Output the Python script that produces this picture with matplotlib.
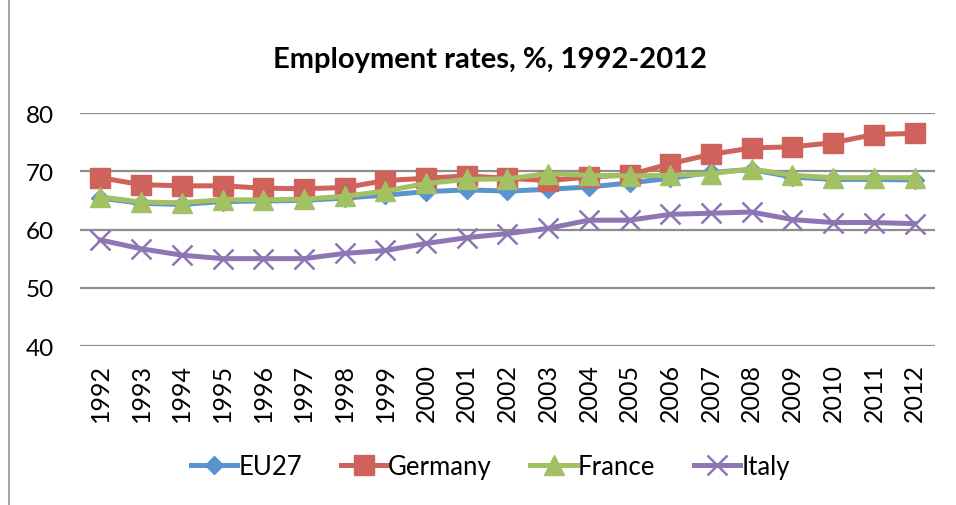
import numpy as np
import matplotlib
matplotlib.use("Agg")
import matplotlib.pyplot as plt
from matplotlib.lines import Line2D

plt.rcParams['font.family'] = ['Lato', 'DejaVu Sans']

years = [str(y) for y in range(1992, 2013)]
eu27 = [65.4, 64.5, 64.3, 64.8, 64.9, 65.0, 65.4, 65.9, 66.5, 66.8, 66.6,
        66.9, 67.3, 68.0, 68.8, 69.8, 70.3, 69.0, 68.6, 68.6, 68.5]
germany = [68.9, 67.7, 67.5, 67.5, 67.1, 67.0, 67.2, 68.4, 68.8, 69.2, 68.8,
           68.4, 69.0, 69.4, 71.3, 72.9, 74.0, 74.2, 74.9, 76.3, 76.5]
france = [65.6, 64.7, 64.6, 65.1, 65.1, 65.2, 65.7, 66.6, 67.9, 68.6, 68.7,
          69.6, 69.3, 69.2, 69.3, 69.6, 70.4, 69.3, 68.9, 68.9, 68.9]
italy = [58.2, 56.7, 55.6, 55.0, 55.0, 55.0, 55.9, 56.4, 57.6, 58.6, 59.3,
         60.2, 61.6, 61.6, 62.6, 62.8, 63.0, 61.7, 61.2, 61.2, 61.0]

names = ['EU27', 'Germany', 'France', 'Italy']
colors = ['#5A94CE', '#CF625B', '#A2C163', '#8E76B4']

fig = plt.figure(figsize=(9.56, 5.06), dpi=100)
ax = fig.add_axes([0.0837, 0.3142, 0.8943, 0.4605])

x = np.arange(len(years))
ax.plot(x, eu27, color=colors[0], lw=3.6, marker='D', ms=9, label=names[0],
        solid_joinstyle='round', zorder=3)
ax.plot(x, germany, color=colors[1], lw=3.6, marker='s', ms=14, label=names[1],
        solid_joinstyle='round', zorder=4)
ax.plot(x, france, color=colors[2], lw=3.6, marker='^', ms=15, label=names[2],
        solid_joinstyle='round', zorder=5)
ax.plot(x, italy, color=colors[3], lw=3.6, marker='x', ms=14, mew=1.8,
        label=names[3], solid_joinstyle='round', zorder=6)

ax.set_xlim(-0.5, len(years) - 0.5)
ax.set_ylim(40, 80)
ax.set_yticks([40, 50, 60, 70, 80])
ax.set_xticks(x)
ax.set_xticklabels(years, rotation=90, va='top')
ax.tick_params(axis='y', length=0, pad=19, labelsize=17.5)
ax.tick_params(axis='x', length=0, pad=12, labelsize=18)
ax.grid(axis='y', color='#8E8E8E', lw=1.6)
ax.set_axisbelow(True)
for s in ax.spines.values():
    s.set_visible(False)

fig.text(0.513, 0.881, 'Employment rates, %, 1992-2012', ha='center',
         va='center', fontsize=21, fontweight='bold')

leg = fig.legend(loc='center', bbox_to_anchor=(0.513, 0.077), ncol=4,
                 frameon=False, fontsize=18.5, handlelength=1.8,
                 columnspacing=1.5, handletextpad=0.05)

fig.add_artist(Line2D([0.0095, 0.0095], [0, 1], color='#A6A6A6', lw=1.5))

fig.savefig('out.png', dpi=100)
